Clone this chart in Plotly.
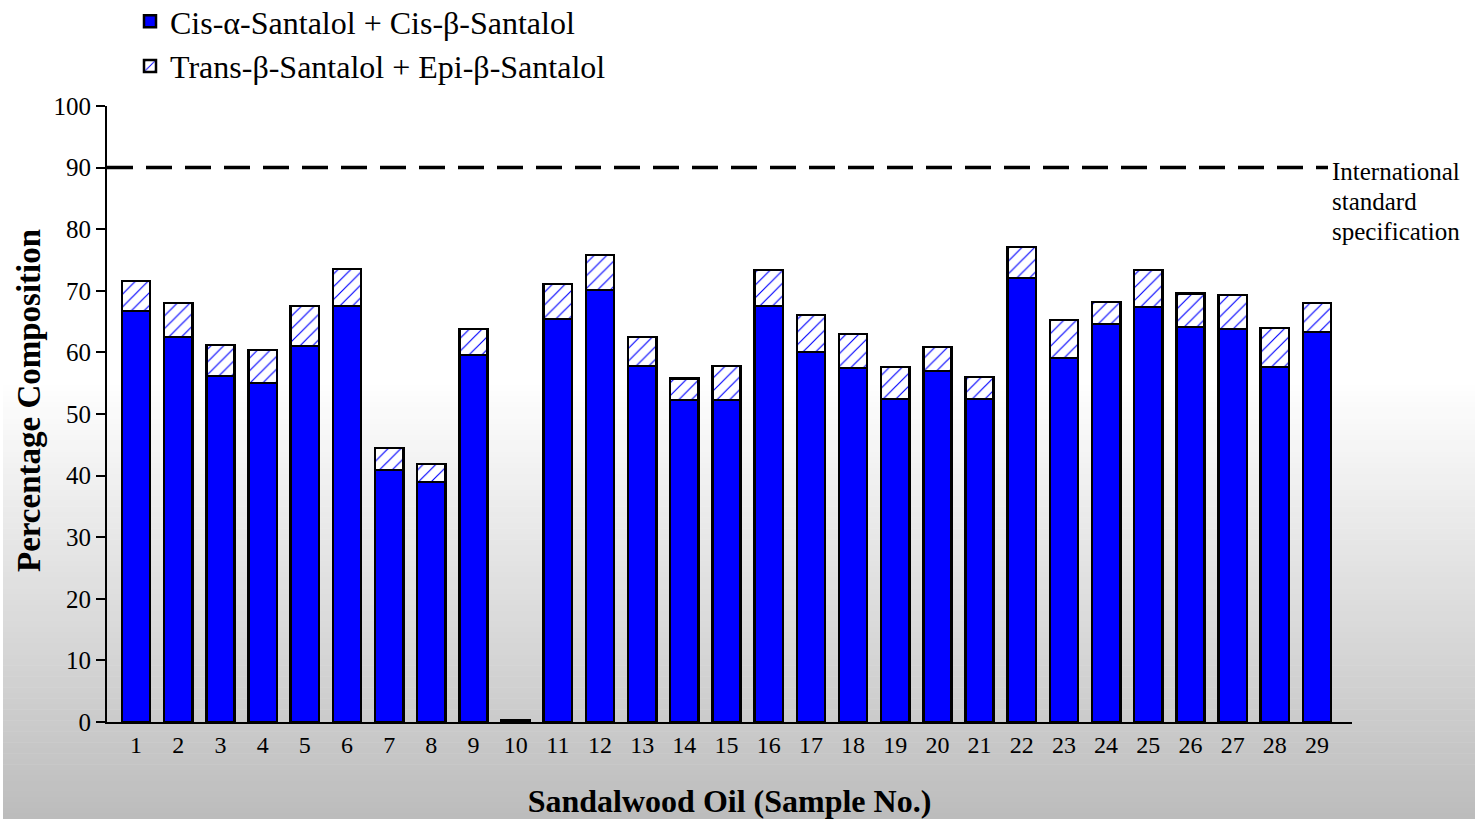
import plotly.graph_objects as go

samples = [str(i) for i in range(1, 30)]
cis_santalol = [66.7, 62.5, 56.2, 55.0, 61.0, 67.5, 40.9, 39.0, 59.6, 0.25,
                65.4, 70.1, 57.8, 52.3, 52.3, 67.5, 60.1, 57.5, 52.4, 57.0,
                52.4, 72.1, 59.1, 64.6, 67.4, 64.1, 63.8, 57.6, 63.3]
total_santalol = [71.6, 68.0, 61.2, 60.4, 67.5, 73.5, 44.5, 41.9, 63.8, 0.25,
                  71.1, 75.8, 62.5, 55.8, 57.8, 73.4, 66.1, 63.0, 57.6, 60.9,
                  56.0, 77.1, 65.3, 68.2, 73.4, 69.6, 69.3, 64.0, 68.0]
trans_epi_santalol = [round(t - c, 2) for t, c in zip(total_santalol, cis_santalol)]
spec_value = 90
spec_label_lines = ["International", "standard", "specification"]
y_ticks = list(range(0, 101, 10))

W, H = 1475, 819
ML, MR, MT, MB = 107, 123, 106, 97
PW, PH = W - ML - MR, H - MT - MB

xnum = list(range(1, 30))

fig = go.Figure()
fig.add_trace(go.Bar(
    x=xnum, y=cis_santalol, name="Cis-α-Santalol + Cis-β-Santalol",
    marker=dict(color="#0000ff", line=dict(color="black", width=2.5)),
))
fig.add_trace(go.Bar(
    x=xnum, y=trans_epi_santalol, name="Trans-β-Santalol + Epi-β-Santalol",
    marker=dict(color="white", line=dict(color="black", width=2.5),
                pattern=dict(shape="/", fgcolor="#0000ff", bgcolor="white",
                             fgopacity=1, size=9, solidity=0.13)),
))

shapes = []
def px_to_paper_x(px):
    return (px - ML) / PW
def py_to_paper_y(py):
    return (H - MB - py) / PH

# background gradient (white at top, grey at bottom)
shapes.append(dict(type="rect", xref="paper", yref="paper", layer="below",
                   x0=px_to_paper_x(0), x1=px_to_paper_x(W),
                   y0=py_to_paper_y(H), y1=py_to_paper_y(0),
                   fillcolor="white", line=dict(width=0)))
g_start, g_end = 380, H
n = 80
for i in range(n):
    y0 = g_start + (g_end - g_start) * i / n
    y1 = g_start + (g_end - g_start) * (i + 1) / n
    t = (i + 0.5) / n
    v = int(round(255 - t * (255 - 188)))
    shapes.append(dict(type="rect", xref="paper", yref="paper", layer="below",
                       x0=px_to_paper_x(3), x1=px_to_paper_x(W),
                       y0=py_to_paper_y(y1 + 0.5), y1=py_to_paper_y(y0),
                       fillcolor=f"rgb({v},{v},{v})", line=dict(width=0)))

# international standard line
shapes.append(dict(type="line", xref="paper", yref="y",
                   x0=0, x1=px_to_paper_x(1328), y0=spec_value, y1=spec_value,
                   line=dict(color="black", width=3.5, dash="26px,13px")))

annotations = []
for k, line in enumerate(spec_label_lines):
    annotations.append(dict(x=px_to_paper_x(1330), y=py_to_paper_y(172 + 29.5 * k),
                            xref="paper", yref="paper", xanchor="left", yanchor="middle",
                            align="left", showarrow=False, text=line,
                            font=dict(size=25, family="Liberation Serif")))
# y-axis title
annotations.append(dict(x=px_to_paper_x(29), y=py_to_paper_y(401), xref="paper", yref="paper",
                        xanchor="center", yanchor="middle", showarrow=False, textangle=-90,
                        text="<b>Percentage Composition</b>",
                        font=dict(size=33, family="Liberation Serif")))

fig.update_layout(
    width=W, height=H,
    margin=dict(l=ML, r=MR, t=MT, b=MB, autoexpand=False),
    barmode="stack", bargap=0.33,
    paper_bgcolor="white", plot_bgcolor="rgba(0,0,0,0)",
    font=dict(family="Liberation Serif", color="black"),
    shapes=shapes,
    showlegend=True,
    legend=dict(x=px_to_paper_x(130), y=py_to_paper_y(-6), xanchor="left", yanchor="top",
                font=dict(size=32, family="Liberation Serif"),
                bgcolor="rgba(0,0,0,0)", traceorder="normal", tracegroupgap=0),
    annotations=annotations,
)
fig.update_xaxes(range=[0.31, 29.83], tickmode="array", tickvals=xnum, ticktext=samples,
                 showline=True, linecolor="black", linewidth=2, ticks="",
                 showgrid=False, zeroline=False,
                 tickfont=dict(size=24),
                 title=dict(text="<b>Sandalwood Oil (Sample No.)</b>", font=dict(size=32), standoff=36))
fig.update_yaxes(range=[0, 100], tickmode="array", tickvals=y_ticks,
                 showline=True, linecolor="black", linewidth=2, ticks="outside",
                 ticklen=9, tickwidth=2, tickcolor="black",
                 showgrid=False, zeroline=False,
                 tickfont=dict(size=25))

fig.write_html("out.html", config={"displayModeBar": False},
               post_script="document.body.style.margin='0';document.body.style.overflow='hidden';")
